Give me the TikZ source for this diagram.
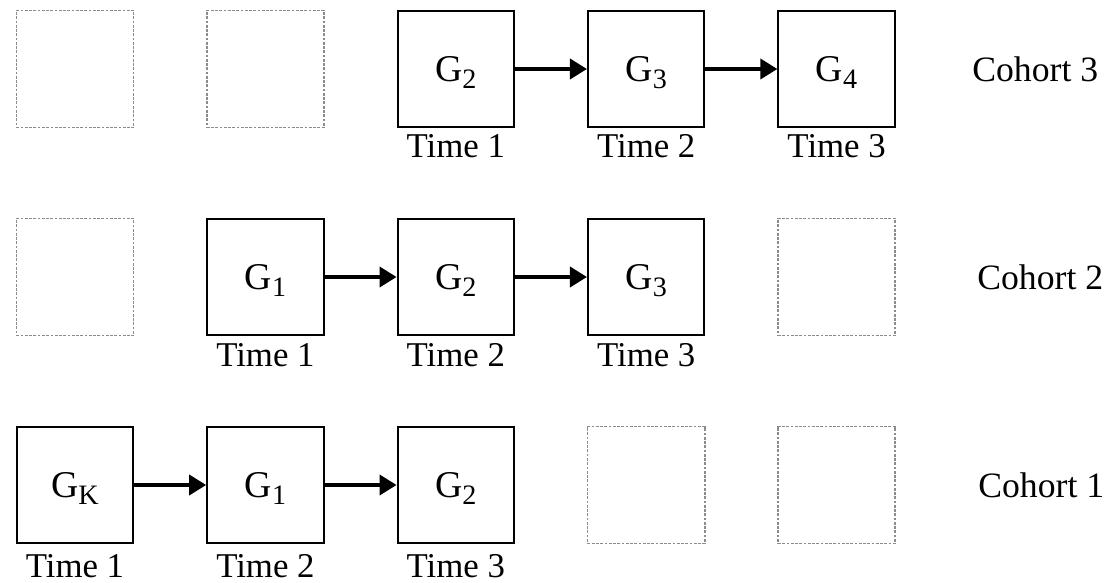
\documentclass[tikz,border=0pt]{standalone}
\usepackage{fontspec}
\setmainfont{Liberation Serif}
\usetikzlibrary{arrows.meta,positioning}
% G with its index set a little low
\newcommand{\gind}[1]{G\raisebox{-4pt}{\fontsize{16}{16}\selectfont #1}}
\tikzset{
  gen/.style={draw, line width=1.1pt, minimum width=23.3mm, minimum height=23.3mm, inner sep=0pt, text depth=0pt, font=\fontsize{21.5}{24}\selectfont},
  vacio/.style={draw=black!45, line width=0.9pt, dash pattern=on 0.55mm off 0.3mm, minimum width=23.4mm, minimum height=23.4mm, inner sep=0pt},
  fl/.style={-{Triangle[length=3.4mm,width=4mm]}, line width=2.1pt},
  tiempo/.style={anchor=base, inner sep=0pt, font=\fontsize{19.8}{22}\selectfont},
  coh/.style={anchor=west, inner sep=0pt, font=\fontsize{20.3}{24}\selectfont},
}
\begin{document}
\begin{tikzpicture}[x=0.2mm,y=0.2mm]
  \useasboundingbox (0,0) rectangle (1107,582);
  % cohort 3 (top row)
  \node[vacio] (v31) at (75,513) {};
  \node[vacio] (v32) at (265.4,513) {};
  \node[gen] (g33) at (455.8,513) {\gind{2}};
  \node[gen] (g34) at (646.2,513) {\gind{3}};
  \node[gen] (g35) at (836.6,513) {\gind{4}};
  \draw[fl] (g33)--(g34); \draw[fl] (g34)--(g35);
  \node[tiempo] (t33) at (455.8,424.5) {Time 1};
  \node[tiempo] (t34) at (646.2,424.5) {Time 2};
  \node[tiempo] (t35) at (836.6,424.5) {Time 3};
  \node[coh] (k3) at (972,513) {Cohort 3};
  % cohort 2
  \node[vacio] (v21) at (75,305) {};
  \node[gen] (g22) at (265.4,305) {\gind{1}};
  \node[gen] (g23) at (455.8,305) {\gind{2}};
  \node[gen] (g24) at (646.2,305) {\gind{3}};
  \node[vacio] (v25) at (836.6,305) {};
  \draw[fl] (g22)--(g23); \draw[fl] (g23)--(g24);
  \node[tiempo] (t22) at (265.4,216) {Time 1};
  \node[tiempo] (t23) at (455.8,216) {Time 2};
  \node[tiempo] (t24) at (646.2,216) {Time 3};
  \node[coh] (k2) at (977,305) {Cohort 2};
  % cohort 1 (bottom row)
  \node[gen] (g11) at (75,97) {\gind{K}};
  \node[gen] (g12) at (265.4,97) {\gind{1}};
  \node[gen] (g13) at (455.8,97) {\gind{2}};
  \node[vacio] (v14) at (646.2,97) {};
  \node[vacio] (v15) at (836.6,97) {};
  \draw[fl] (g11)--(g12); \draw[fl] (g12)--(g13);
  \node[tiempo] (t11) at (75,4.5) {Time 1};
  \node[tiempo] (t12) at (265.4,4.5) {Time 2};
  \node[tiempo] (t13) at (455.8,4.5) {Time 3};
  \node[coh] (k1) at (978,97) {Cohort 1};
\end{tikzpicture}
\end{document}
